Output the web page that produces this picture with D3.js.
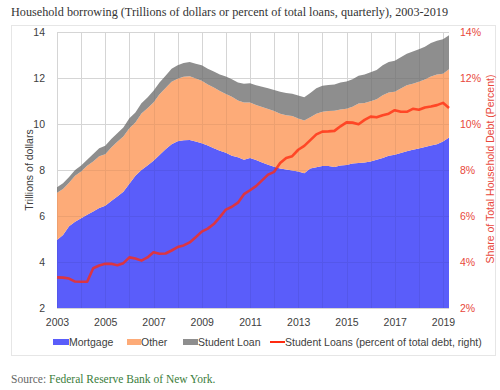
<!DOCTYPE html>
<html><head><meta charset="utf-8">
<script src="https://cdn.jsdelivr.net/npm/d3@7"></script>
<style>body{margin:0;background:#fff}svg{display:block}</style>
</head><body>
<svg id="c" width="500" height="390"></svg>
<script>
// ---- data (trillions of dollars, quarterly 2003Q1 - 2019Q2) ----
const startYear = 2003;
const yearTicks = [2003, 2005, 2007, 2009, 2011, 2013, 2015, 2017, 2019];
const leftTicks = [2, 4, 6, 8, 10, 12, 14];
const rightTicks = [2, 4, 6, 8, 10, 12, 14];
const seriesNames = ["Mortgage", "Other", "Student Loan"];
const mortgage = [
  4.96,5.17,5.55,5.75, 5.90,6.05,6.20,6.35, 6.45,6.65,6.85,7.05, 7.40,7.75,8.00,8.20,
  8.40,8.65,8.90,9.12, 9.25,9.29,9.30,9.24, 9.16,9.07,8.95,8.84, 8.75,8.62,8.55,8.45,
  8.52,8.44,8.33,8.23, 8.14,8.06,8.02,7.98, 7.93,7.86,8.07,8.12, 8.17,8.17,8.13,8.20,
  8.22,8.28,8.30,8.33, 8.37,8.45,8.52,8.62, 8.66,8.74,8.82,8.88, 8.94,9.00,9.06,9.12,
  9.24,9.41];
const other = [
  2.05,2.00,1.90,2.00, 2.04,2.13,2.17,2.25, 2.24,2.33,2.38,2.41, 2.42,2.31,2.46,2.48,
  2.54,2.64,2.67,2.72, 2.72,2.76,2.78,2.74, 2.72,2.65,2.64,2.59, 2.55,2.56,2.47,2.48,
  2.41,2.39,2.41,2.42, 2.43,2.39,2.36,2.37, 2.31,2.29,2.22,2.33, 2.36,2.40,2.45,2.43,
  2.44,2.47,2.59,2.58, 2.62,2.63,2.73,2.75, 2.74,2.80,2.86,2.87, 2.90,2.93,3.00,3.03,
  2.95,2.97];
const studentLoan = [
  0.24,0.25,0.25,0.25, 0.26,0.27,0.33,0.35, 0.36,0.37,0.37,0.39, 0.43,0.44,0.44,0.47,
  0.51,0.51,0.53,0.56, 0.58,0.60,0.62,0.64, 0.67,0.68,0.69,0.72, 0.76,0.77,0.78,0.82,
  0.84,0.85,0.88,0.90, 0.91,0.95,0.97,0.97, 1.00,1.01,1.06,1.10, 1.13,1.13,1.14,1.17,
  1.19,1.20,1.21,1.24, 1.26,1.27,1.30,1.33, 1.35,1.36,1.37,1.40, 1.41,1.43,1.46,1.47,
  1.49,1.48];
// student loans, percent of total debt (right axis)
const studentShare = [
  3.33,3.32,3.28,3.15, 3.14,3.14,3.73,3.85, 3.92,3.92,3.86,3.95, 4.20,4.15,4.06,4.20,
  4.42,4.36,4.37,4.50, 4.65,4.72,4.85,5.08, 5.32,5.45,5.65,5.95, 6.28,6.40,6.58,6.95,
  7.12,7.30,7.55,7.80, 7.92,8.30,8.52,8.60, 8.88,9.05,9.30,9.55, 9.67,9.68,9.70,9.90,
  10.07,10.06,9.99,10.18, 10.32,10.29,10.38,10.45, 10.60,10.53,10.53,10.66, 10.62,10.72,10.76,10.82,
  10.92,10.70];
const colors = ["#5a5dfa", "#fdab78", "#8e8e8e"];
const lineColor = "#ff2a10";

// ---- build ----
const rows = mortgage.map((m, i) => ({
  t: startYear + i / 4, "Mortgage": m, "Other": other[i], "Student Loan": studentLoan[i], share: studentShare[i]
}));
const svg = d3.select("#c");
const x = d3.scaleLinear().domain([2003, 2019]).range([57, 443]);
const y = d3.scaleLinear().domain([2, 14]).range([308, 32]);
const yR = d3.scaleLinear().domain([2, 14]).range([308, 32]);
const x0 = x(rows[0].t), x1 = x(rows[rows.length - 1].t);

// frame
svg.append("rect").attr("x", 11.5).attr("y", 25.5).attr("width", 484).attr("height", 330)
  .attr("fill", "none").attr("stroke", "#e6e6e6");

// title
svg.append("text").attr("x", 11).attr("y", 16)
  .attr("font-family", "'Liberation Serif', serif").attr("font-size", 13.5).attr("fill", "#333")
  .attr("textLength", 437).attr("lengthAdjust", "spacingAndGlyphs")
  .text("Household borrowing (Trillions of dollars or percent of total loans, quarterly), 2003-2019");

// grid under
const grid = svg.append("g");
function drawGrid(g, col) {
  g.selectAll(".h").data(leftTicks).join("line").attr("x1", x0).attr("x2", x1)
    .attr("y1", d => Math.round(y(d)) + 0.5).attr("y2", d => Math.round(y(d)) + 0.5).attr("stroke", col);
  g.selectAll(".v").data(d3.range(2003, 2020)).join("line")
    .attr("x1", d => Math.round(x(d)) + 0.5).attr("x2", d => Math.round(x(d)) + 0.5)
    .attr("y1", y(14)).attr("y2", y(2)).attr("stroke", col);
}
drawGrid(grid, "#e4e4e4");

// stacked areas
const stack = d3.stack().keys(seriesNames)(rows);
svg.append("clipPath").attr("id", "clip").append("rect")
  .attr("x", x0).attr("y", y(14)).attr("width", x1 - x0).attr("height", y(2) - y(14));
const area = d3.area().x(d => x(d.data.t)).y0(d => y(d[0])).y1(d => y(d[1]));
svg.append("g").attr("clip-path", "url(#clip)").selectAll("path").data(stack).join("path")
  .attr("d", area).attr("fill", (d, i) => colors[i]);

// faint grid over areas
const grid2 = svg.append("g").attr("opacity", 0.06);
drawGrid(grid2, "#000");

// share line
const line = d3.line().x(d => x(d.t)).y(d => yR(d.share));
svg.append("path").datum(rows).attr("d", line).attr("fill", "none")
  .attr("stroke", lineColor).attr("stroke-opacity", 0.78).attr("stroke-width", 2.6)
  .attr("stroke-linejoin", "round");

// axes
const font = "'Liberation Sans', Arial, sans-serif";
const axL = svg.append("g").attr("transform", `translate(${x0 - 9},0)`)
  .call(d3.axisLeft(y).tickValues(leftTicks).tickSize(0).tickFormat(d3.format("d")));
axL.select(".domain").remove();
axL.selectAll("text").attr("font-family", font).attr("font-size", 10.5).attr("fill", "#404040");

const axR = svg.append("g").attr("transform", `translate(457,0)`)
  .call(d3.axisRight(yR).tickValues(rightTicks).tickSize(0).tickFormat(d => d + "%"));
axR.select(".domain").remove();
axR.selectAll("text").attr("font-family", font).attr("font-size", 10.5).attr("fill", "#e8473b");

const axB = svg.append("g").attr("transform", `translate(0,${y(2) + 8})`)
  .call(d3.axisBottom(x).tickValues(yearTicks).tickSize(0).tickFormat(d3.format("d")));
axB.select(".domain").remove();
axB.selectAll("text").attr("font-family", font).attr("font-size", 10.5).attr("fill", "#404040");

// axis titles
svg.append("text").attr("transform", "translate(33,170) rotate(-90)").attr("text-anchor", "middle")
  .attr("font-family", font).attr("font-size", 10.5).attr("fill", "#404040").text("Trillions of dollars");
svg.append("text").attr("transform", "translate(494,169) rotate(-90)").attr("text-anchor", "middle")
  .attr("font-family", font).attr("font-size", 10.5).attr("fill", "#e8473b").text("Share of Total Household Debt (Percent)");

// legend
const legend = [
  {label: "Mortgage", color: colors[0], sx: 53, tx: 69, type: "rect"},
  {label: "Other", color: colors[1], sx: 127, tx: 141, type: "rect"},
  {label: "Student Loan", color: colors[2], sx: 183, tx: 198, type: "rect"},
  {label: "Student Loans (percent of total debt, right)", color: lineColor, sx: 270, tx: 285, type: "line"}
];
const lg = svg.append("g");
legend.forEach(l => {
  if (l.type === "rect") lg.append("rect").attr("x", l.sx).attr("y", 339).attr("width", l.tx - l.sx).attr("height", 6).attr("fill", l.color);
  else lg.append("rect").attr("x", l.sx).attr("y", 341).attr("width", l.tx - l.sx).attr("height", 2).attr("fill", l.color);
  lg.append("text").attr("x", l.tx).attr("y", 346).attr("font-family", font).attr("font-size", 10.5)
    .attr("fill", "#404040").text(l.label);
});

// source
const src = svg.append("text").attr("x", 11).attr("y", 383)
  .attr("font-family", "'Liberation Serif', serif").attr("font-size", 11.5);
src.append("tspan").attr("fill", "#666").text("Source: ");
src.append("tspan").attr("fill", "#3b7d3b").text("Federal Reserve Bank of New York.");
</script>
</body></html>
